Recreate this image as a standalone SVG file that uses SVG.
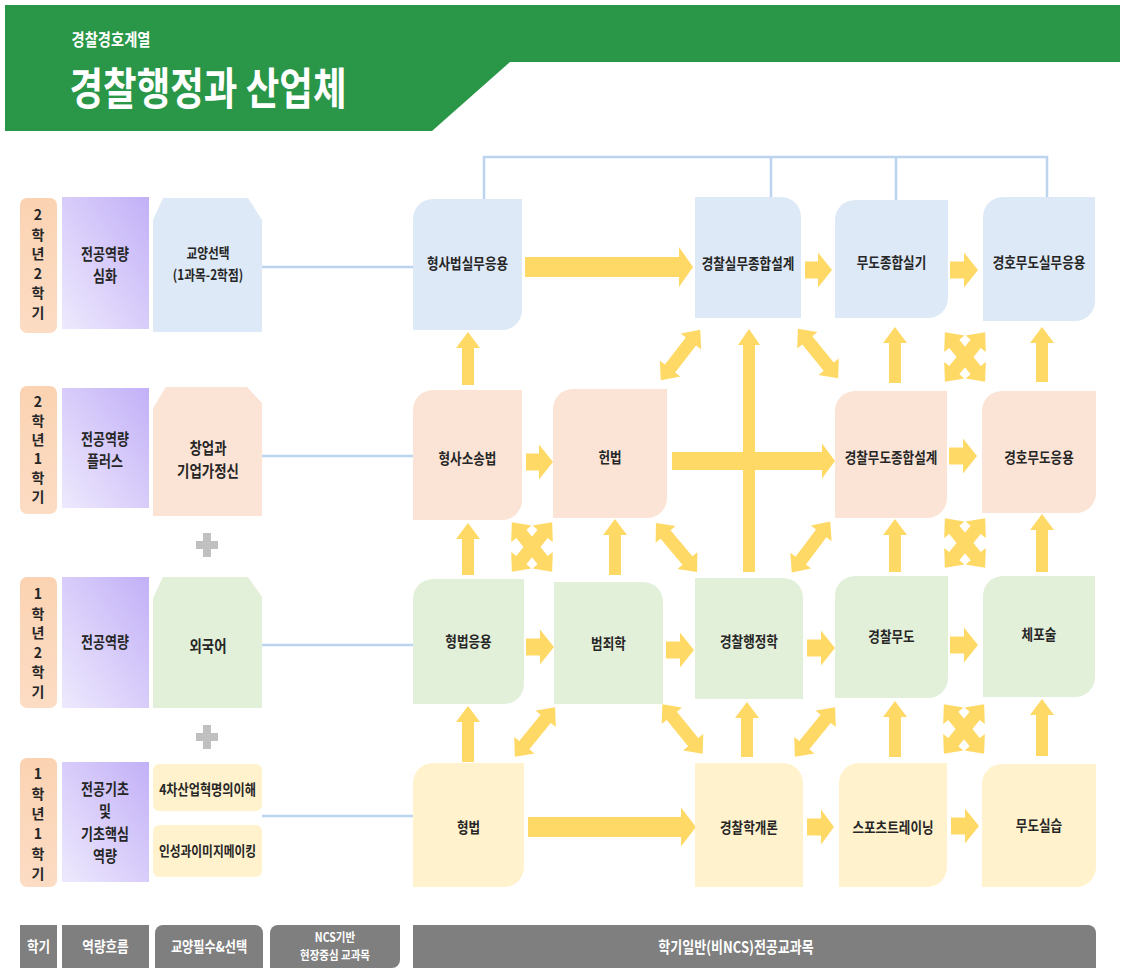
<svg xmlns="http://www.w3.org/2000/svg" width="1129" height="970" viewBox="0 0 1129 970">
<defs>
<style>
.t{font-family:"Noto Sans CJK KR","Noto Sans",sans-serif;font-weight:700;text-anchor:middle;dominant-baseline:central;fill:#262626}
.n{font-size:15px}
.w{fill:#ffffff}
.blue{fill:#dde9f6}.peach{fill:#fbe4d6}.green{fill:#e2efd9}.yellow{fill:#fff2cc}
.arr{fill:#ffd966}
.ln{stroke:#bcd4ee;stroke-width:2.5;fill:none}
.gray{fill:#7f7f7f}
.sem{fill:url(#gSem)}
.pur{fill:url(#gPur)}
</style>
<linearGradient id="gSem" x1="0" y1="0" x2="0" y2="1"><stop offset="0" stop-color="#fbd3b2"/><stop offset="1" stop-color="#fcdcc4"/></linearGradient>
<linearGradient id="gPur" x1="0" y1="1" x2="1" y2="0"><stop offset="0" stop-color="#eee9fd"/><stop offset="1" stop-color="#c2b0f7"/></linearGradient>
<path id="dbl" d="M-32,0 L-17,-13 L-17,-6.5 L17,-6.5 L17,-13 L32,0 L17,13 L17,6.5 L-17,6.5 L-17,13 Z"/>
<path id="plus" d="M-4,-12 H4 V-4 H11 V4 H4 V12 H-4 V4 H-11 V-4 H-4 Z"/>
</defs>

<g id="header">
<polygon points="5,5 1120,5 1120,62 510,62 432,131 5,131" fill="#2a9648"/>
<text class="t w" style="font-size:17px" transform="translate(111,39) scale(0.84,1)">경찰경호계열</text>
<text class="t w" style="font-size:44px" transform="translate(208,86) scale(0.83,1)">경찰행정과 산업체</text>
</g>

<g id="semesters">
<rect class="sem" x="20" y="198" width="37" height="135" rx="7"/>
<text class="t" style="font-size:14px"><tspan x="38" y="214">2</tspan><tspan x="38" y="233.5">학</tspan><tspan x="38" y="253">년</tspan><tspan x="38" y="272.5">2</tspan><tspan x="38" y="292">학</tspan><tspan x="38" y="311.5">기</tspan></text>
<rect class="sem" x="20" y="386" width="37" height="128" rx="7"/>
<text class="t" style="font-size:14px"><tspan x="38" y="401">2</tspan><tspan x="38" y="420">학</tspan><tspan x="38" y="439">년</tspan><tspan x="38" y="458">1</tspan><tspan x="38" y="477">학</tspan><tspan x="38" y="496">기</tspan></text>
<rect class="sem" x="20" y="577" width="37" height="131" rx="7"/>
<text class="t" style="font-size:14px"><tspan x="38" y="593">1</tspan><tspan x="38" y="612.5">학</tspan><tspan x="38" y="632">년</tspan><tspan x="38" y="651.5">2</tspan><tspan x="38" y="671">학</tspan><tspan x="38" y="690.5">기</tspan></text>
<rect class="sem" x="20" y="758" width="37" height="129" rx="7"/>
<text class="t" style="font-size:14px"><tspan x="38" y="773">1</tspan><tspan x="38" y="793">학</tspan><tspan x="38" y="813">년</tspan><tspan x="38" y="833">1</tspan><tspan x="38" y="853">학</tspan><tspan x="38" y="873">기</tspan></text>
</g>

<g id="competency">
<rect class="pur" x="62" y="197" width="87" height="132"/>
<text class="t" style="font-size:15.5px" transform="translate(105,0) scale(0.84,1)"><tspan x="0" y="252">전공역량</tspan><tspan x="0" y="274">심화</tspan></text>
<rect class="pur" x="62" y="388" width="87" height="120"/>
<text class="t" style="font-size:15.5px" transform="translate(105,0) scale(0.84,1)"><tspan x="0" y="437">전공역량</tspan><tspan x="0" y="459">플러스</tspan></text>
<rect class="pur" x="62" y="577" width="87" height="131"/>
<text class="t" style="font-size:15.5px" transform="translate(105,0) scale(0.84,1)"><tspan x="0" y="640">전공역량</tspan></text>
<rect class="pur" x="62" y="762" width="87" height="120"/>
<text class="t" style="font-size:15.5px" transform="translate(105,0) scale(0.84,1)"><tspan x="0" y="787">전공기초</tspan><tspan x="0" y="809">및</tspan><tspan x="0" y="832">기초핵심</tspan><tspan x="0" y="854">역량</tspan></text>
</g>

<g id="liberal">
<polygon class="blue" points="153,220 163,198 248,198 262,220 262,332 153,332"/>
<text class="t" style="font-size:14px" transform="translate(208,0) scale(0.84,1)"><tspan x="0" y="252">교양선택</tspan><tspan x="0" y="274">(1과목-2학점)</tspan></text>
<polygon class="peach" points="153,408 166,387 247,387 262,403 262,516 153,516"/>
<text class="t" style="font-size:16px" transform="translate(208,0) scale(0.84,1)"><tspan x="0" y="446">창업과</tspan><tspan x="0" y="469">기업가정신</tspan></text>
<polygon class="green" points="153,598 163,577 248,577 262,597 262,708 153,708"/>
<text class="t" style="font-size:16px" transform="translate(208,645) scale(0.84,1)">외국어</text>
<rect class="yellow" x="153" y="764" width="109" height="47" rx="6"/>
<text class="t" style="font-size:14.5px" transform="translate(207.5,789) scale(0.84,1)">4차산업혁명의이해</text>
<rect class="yellow" x="153" y="825" width="109" height="52" rx="6"/>
<text class="t" style="font-size:14px" transform="translate(207.5,850) scale(0.84,1)">인성과이미지메이킹</text>
<use href="#plus" fill="#c0c0c0" x="207" y="545"/>
<use href="#plus" fill="#c0c0c0" x="207" y="737"/>
</g>

<g id="connectors">
<g class="ln">
<path d="M262,267 H413 M262,456 H413 M262,645 H413 M262,816 H413"/>
<path d="M484,199 V157 H1047 V197 M771,157 V197 M896,157 V200"/>
</g>
<g class="arr">
<polygon points="525,257 679,257 679,247 693,267 679,287 679,277 525,277"/>
<polygon points="805,261.5 818,261.5 818,252.5 832,270 818,287.5 818,278.5 805,278.5"/>
<polygon points="950,261.5 964,261.5 964,252.5 978,270 964,287.5 964,278.5 950,278.5"/>
<polygon points="526,453.5 539,453.5 539,444.5 553,462 539,479.5 539,470.5 526,470.5"/>
<polygon points="672,452 822,452 822,443.5 835,461 822,478.5 822,470 672,470"/>
<polygon points="949,447.5 963,447.5 963,438.5 977,456 963,473.5 963,464.5 949,464.5"/>
<polygon points="526,638.5 540,638.5 540,629.5 554,647 540,664.5 540,655.5 526,655.5"/>
<polygon points="666,641.5 680,641.5 680,632.5 694,650 680,667.5 680,658.5 666,658.5"/>
<polygon points="807,639.5 821,639.5 821,630.5 835,648 821,665.5 821,656.5 807,656.5"/>
<polygon points="950,636.5 964,636.5 964,627.5 978,645 964,662.5 964,653.5 950,653.5"/>
<polygon points="528,817 681,817 681,807.5 696,827 681,846.5 681,837 528,837"/>
<polygon points="807,818.5 821,818.5 821,809.5 834,827 821,844.5 821,835.5 807,835.5"/>
<polygon points="951,817.5 965,817.5 965,808.5 979,826 965,843.5 965,834.5 951,834.5"/>

<polygon points="468,332 480,348 474,348 474,385 462,385 462,348 456,348"/>
<polygon points="895,327 907,343 901,343 901,383 889,383 889,343 883,343"/>
<polygon points="1042,327 1054,343 1048,343 1048,382 1036,382 1036,343 1030,343"/>
<polygon points="749,329 760,345 755,345 755,572 743,572 743,345 738,345"/>
<polygon points="468,523 480,539 474,539 474,575 462,575 462,539 456,539"/>
<polygon points="615,519 627,535 621,535 621,575 609,575 609,535 603,535"/>
<polygon points="895,519 907,535 901,535 901,572 889,572 889,535 883,535"/>
<polygon points="1042,514 1054,530 1048,530 1048,572 1036,572 1036,530 1030,530"/>
<polygon points="468,706 480,722 474,722 474,762 462,762 462,722 456,722"/>
<polygon points="747,702 759,718 753,718 753,757 741,757 741,718 735,718"/>
<polygon points="895,701 907,717 901,717 901,757 889,757 889,717 883,717"/>
<polygon points="1042,699 1054,715 1048,715 1048,756 1036,756 1036,715 1030,715"/>

<use href="#dbl" transform="translate(680.5,355) rotate(-52)"/>
<use href="#dbl" transform="translate(818,353.5) rotate(51)"/>
<use href="#dbl" transform="translate(676.5,547.5) rotate(50)"/>
<use href="#dbl" transform="translate(811,547) rotate(-53)"/>
<use href="#dbl" transform="translate(535,732) rotate(-51)"/>
<use href="#dbl" transform="translate(682.5,729) rotate(51)"/>
<use href="#dbl" transform="translate(815,732) rotate(-51)"/>

<use href="#dbl" transform="translate(532,547) rotate(51)"/>
<use href="#dbl" transform="translate(532,547) rotate(-51)"/>
<use href="#dbl" transform="translate(965,357) rotate(51)"/>
<use href="#dbl" transform="translate(965,357) rotate(-51)"/>
<use href="#dbl" transform="translate(965,543) rotate(51)"/>
<use href="#dbl" transform="translate(965,543) rotate(-51)"/>
<use href="#dbl" transform="translate(964,729) rotate(51)"/>
<use href="#dbl" transform="translate(964,729) rotate(-51)"/>
</g>
</g>

<g id="n-hyeongsabeop-silmu"><path class="blue" d="M433,199 H522 V310 A20,20 0 0 1 502,330 H413 V219 A20,20 0 0 1 433,199 Z"/><text class="t n" transform="translate(467.5,263) scale(0.84,1)">형사법실무응용</text></g>
<g id="n-gyeongchal-silmu"><path class="blue" d="M695,197 H781 A20,20 0 0 1 801,217 V318 H695 Z"/><text class="t n" transform="translate(748,263) scale(0.84,1)">경찰실무종합설계</text></g>
<g id="n-mudo-jonghap-silgi"><path class="blue" d="M855,200 H948 V298 A20,20 0 0 1 928,318 H835 V220 A20,20 0 0 1 855,200 Z"/><text class="t n" transform="translate(891.5,262) scale(0.84,1)">무도종합실기</text></g>
<g id="n-gyeongho-mudo-silmu"><path class="blue" d="M1003,197 H1095 V301 A20,20 0 0 1 1075,321 H983 V217 A20,20 0 0 1 1003,197 Z"/><text class="t n" transform="translate(1039,262) scale(0.84,1)">경호무도실무응용</text></g>

<g id="n-hyeongsa-sosong"><path class="peach" d="M433,390 H522 V500 A20,20 0 0 1 502,520 H413 V410 A20,20 0 0 1 433,390 Z"/><text class="t n" transform="translate(467.5,458) scale(0.84,1)">형사소송법</text></g>
<g id="n-heonbeop"><path class="peach" d="M573,389 H667 V498 A20,20 0 0 1 647,518 H553 V409 A20,20 0 0 1 573,389 Z"/><text class="t n" transform="translate(610,457) scale(0.84,1)">헌법</text></g>
<g id="n-mudo-jonghap-seolgye"><path class="peach" d="M855,391 H947 V498 A20,20 0 0 1 927,518 H835 V411 A20,20 0 0 1 855,391 Z"/><text class="t n" transform="translate(891,457) scale(0.84,1)">경찰무도종합설계</text></g>
<g id="n-gyeongho-mudo-eungyong"><path class="peach" d="M1002,391 H1096 V493 A20,20 0 0 1 1076,513 H982 V411 A20,20 0 0 1 1002,391 Z"/><text class="t n" transform="translate(1039,457) scale(0.84,1)">경호무도응용</text></g>

<g id="n-hyeongbeop-eungyong"><path class="green" d="M433,579 H524 V684 A20,20 0 0 1 504,704 H413 V599 A20,20 0 0 1 433,579 Z"/><text class="t n" transform="translate(468.5,641) scale(0.84,1)">형법응용</text></g>
<g id="n-beomjoehak"><path class="green" d="M554,582 H643 A20,20 0 0 1 663,602 V704 H554 Z"/><text class="t n" transform="translate(608.5,643) scale(0.84,1)">범죄학</text></g>
<g id="n-gyeongchal-haengjeong"><path class="green" d="M695,578 H783 A20,20 0 0 1 803,598 V699 H695 Z"/><text class="t n" transform="translate(749,641) scale(0.84,1)">경찰행정학</text></g>
<g id="n-gyeongchal-mudo"><path class="green" d="M855,576 H948 V678 A20,20 0 0 1 928,698 H835 V596 A20,20 0 0 1 855,576 Z"/><text class="t n" transform="translate(891.5,636) scale(0.84,1)">경찰무도</text></g>
<g id="n-chepo"><path class="green" d="M1003,576 H1095 V677 A20,20 0 0 1 1075,697 H983 V596 A20,20 0 0 1 1003,576 Z"/><text class="t n" transform="translate(1039,634) scale(0.84,1)">체포술</text></g>

<g id="n-hyeongbeop"><path class="yellow" d="M433,763 H524 V867 A20,20 0 0 1 504,887 H413 V783 A20,20 0 0 1 433,763 Z"/><text class="t n" transform="translate(468.5,827) scale(0.84,1)">형법</text></g>
<g id="n-gyeongchalhak"><path class="yellow" d="M695,763 H783 A20,20 0 0 1 803,783 V887 H695 Z"/><text class="t n" transform="translate(749,827) scale(0.84,1)">경찰학개론</text></g>
<g id="n-sports"><path class="yellow" d="M859,763 H947 V867 A20,20 0 0 1 927,887 H839 V783 A20,20 0 0 1 859,763 Z"/><text class="t n" transform="translate(893,827) scale(0.84,1)">스포츠트레이닝</text></g>
<g id="n-mudo-silseup"><path class="yellow" d="M1002,764 H1096 V867 A20,20 0 0 1 1076,887 H982 V784 A20,20 0 0 1 1002,764 Z"/><text class="t n" transform="translate(1039,825) scale(0.84,1)">무도실습</text></g>

<g id="legend">
<rect class="gray" x="20" y="925" width="37" height="43"/>
<text class="t w" style="font-size:15px" transform="translate(38.5,946) scale(0.84,1)">학기</text>
<rect class="gray" x="62" y="925" width="87" height="43"/>
<text class="t w" style="font-size:15px" transform="translate(105.5,946) scale(0.84,1)">역량흐름</text>
<path class="gray" d="M163,925 H255 A8,8 0 0 1 263,933 V968 H155 V933 A8,8 0 0 1 163,925 Z"/>
<text class="t w" style="font-size:14.5px" transform="translate(209,946) scale(0.84,1)">교양필수&amp;선택</text>
<path class="gray" d="M278,925 H400 V960 A8,8 0 0 1 392,968 H270 V933 A8,8 0 0 1 278,925 Z"/>
<text class="t w" style="font-size:12.5px" transform="translate(335,0) scale(0.84,1)"><tspan x="0" y="937">NCS기반</tspan><tspan x="0" y="955">현장중심 교과목</tspan></text>
<path class="gray" d="M413,925 H1088 A8,8 0 0 1 1096,933 V968 H413 Z"/>
<text class="t w" style="font-size:15.5px" transform="translate(736,946) scale(0.84,1)">학기일반(비NCS)전공교과목</text>
</g>
</svg>
